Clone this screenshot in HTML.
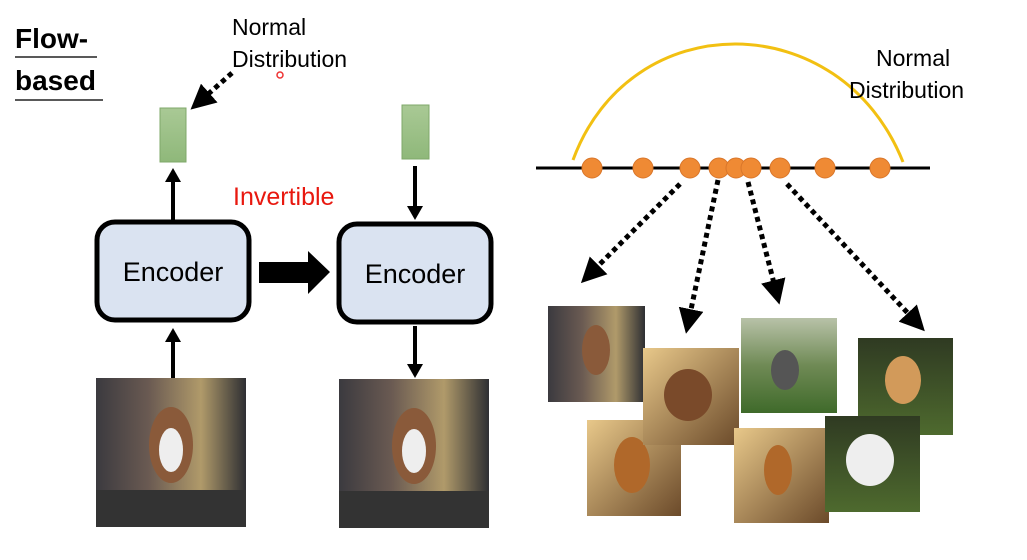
<!DOCTYPE html>
<html><head><meta charset="utf-8"><style>
body{margin:0;background:#fff;}
svg{display:block;font-family:"Liberation Sans",sans-serif;}
</style></head><body>
<svg width="1027" height="560" viewBox="0 0 1027 560" xmlns="http://www.w3.org/2000/svg">
<defs>
<linearGradient id="g1" x1="0" y1="0" x2="0" y2="1"><stop offset="0" stop-color="#a9c995"/><stop offset="1" stop-color="#8fb87a"/></linearGradient>
<linearGradient id="street" x1="0" y1="0" x2="1" y2="0"><stop offset="0" stop-color="#3b3a3f"/><stop offset="0.35" stop-color="#6a5a52"/><stop offset="0.7" stop-color="#b09a6a"/><stop offset="1" stop-color="#2e2f33"/></linearGradient>
<linearGradient id="gold" x1="0" y1="0" x2="1" y2="1"><stop offset="0" stop-color="#e8c88a"/><stop offset="1" stop-color="#6b4a2a"/></linearGradient>
<linearGradient id="green" x1="0" y1="0" x2="0" y2="1"><stop offset="0" stop-color="#b8c2a8"/><stop offset="0.5" stop-color="#6f8a55"/><stop offset="1" stop-color="#3f6a2a"/></linearGradient>
<linearGradient id="dgreen" x1="0" y1="0" x2="0" y2="1"><stop offset="0" stop-color="#2f3a22"/><stop offset="1" stop-color="#4e6a2e"/></linearGradient>
<marker id="ah" markerWidth="5" markerHeight="5" refX="3" refY="2.5" orient="auto" markerUnits="strokeWidth"><path d="M0,0 L5,2.5 L0,5 z" fill="#000"/></marker>
</defs>

<text x="15" y="48" font-size="28" font-weight="bold">Flow-</text>
<line x1="15" y1="57" x2="97" y2="57" stroke="#222" stroke-width="1.5"/>
<text x="15" y="90" font-size="28" font-weight="bold">based</text>
<line x1="15" y1="100" x2="103" y2="100" stroke="#222" stroke-width="1.5"/>

<text x="232" y="35" font-size="23">Normal</text>
<text x="232" y="67" font-size="23">Distribution</text>
<circle cx="280" cy="75" r="3" fill="none" stroke="#e33" stroke-width="1.5"/>
<line x1="232" y1="73" x2="198" y2="103" stroke="#000" stroke-width="5" stroke-dasharray="5,4" marker-end="url(#ah)"/>

<rect x="160" y="108" width="26" height="54" fill="url(#g1)" stroke="#7fa86a"/>
<rect x="402" y="105" width="27" height="54" fill="url(#g1)" stroke="#7fa86a"/>

<line x1="173" y1="220" x2="173" y2="180" stroke="#000" stroke-width="4"/>
<path d="M165,182 L173,168 L181,182 z"/>
<line x1="415" y1="166" x2="415" y2="208" stroke="#000" stroke-width="4"/>
<path d="M407,206 L415,220 L423,206 z"/>

<text x="233" y="205" font-size="25" fill="#e8180f">Invertible</text>

<rect x="97" y="222" width="152" height="98" rx="18" fill="#dae3f1" stroke="#000" stroke-width="5"/>
<text x="173" y="281" font-size="27" text-anchor="middle">Encoder</text>
<rect x="339" y="224" width="152" height="98" rx="18" fill="#dae3f1" stroke="#000" stroke-width="5"/>
<text x="415" y="283" font-size="27" text-anchor="middle">Encoder</text>
<path d="M259,262 L308,262 L308,251 L330,272 L308,294 L308,283 L259,283 z"/>

<line x1="173" y1="378" x2="173" y2="340" stroke="#000" stroke-width="4"/>
<path d="M165,342 L173,328 L181,342 z"/>
<line x1="415" y1="326" x2="415" y2="366" stroke="#000" stroke-width="4"/>
<path d="M407,364 L415,378 L423,364 z"/>

<rect x="96" y="378" width="150" height="149" fill="url(#street)"/>
<ellipse cx="171" cy="445" rx="22" ry="38" fill="#8a5a3a"/><ellipse cx="171" cy="450" rx="12" ry="22" fill="#eee"/>
<rect x="96" y="490" width="150" height="37" fill="#333"/>
<rect x="339" y="379" width="150" height="149" fill="url(#street)"/>
<ellipse cx="414" cy="446" rx="22" ry="38" fill="#8a5a3a"/><ellipse cx="414" cy="451" rx="12" ry="22" fill="#eee"/>
<rect x="339" y="491" width="150" height="37" fill="#333"/>

<path d="M573,160 C630,5 840,5 903,162" fill="none" stroke="#f2c012" stroke-width="3"/>
<text x="876" y="66" font-size="23">Normal</text>
<text x="849" y="98" font-size="23">Distribution</text>
<line x1="536" y1="168" x2="930" y2="168" stroke="#000" stroke-width="3"/>
<g fill="#ef8a34" stroke="#d9762a" stroke-width="1">
<circle cx="592" cy="168" r="10"/><circle cx="643" cy="168" r="10"/><circle cx="690" cy="168" r="10"/><circle cx="719" cy="168" r="10"/><circle cx="736" cy="168" r="10"/><circle cx="751" cy="168" r="10"/><circle cx="780" cy="168" r="10"/><circle cx="825" cy="168" r="10"/><circle cx="880" cy="168" r="10"/></g>
<g stroke="#000" stroke-width="5" stroke-dasharray="5,4" marker-end="url(#ah)">
<line x1="680" y1="184" x2="588" y2="276"/>
<line x1="718" y1="180" x2="688" y2="324"/>
<line x1="748" y1="182" x2="777" y2="295"/>
<line x1="787" y1="184" x2="918" y2="324"/>
</g>

<rect x="548" y="306" width="97" height="96" fill="url(#street)"/>
<ellipse cx="596" cy="350" rx="14" ry="25" fill="#8a5a3a"/>
<rect x="741" y="318" width="96" height="95" fill="url(#green)"/>
<ellipse cx="785" cy="370" rx="14" ry="20" fill="#555"/>
<rect x="858" y="338" width="95" height="97" fill="url(#dgreen)"/>
<ellipse cx="903" cy="380" rx="18" ry="24" fill="#d29a5a"/>
<rect x="587" y="420" width="94" height="96" fill="url(#gold)"/>
<ellipse cx="632" cy="465" rx="18" ry="28" fill="#b0682a"/>
<rect x="643" y="348" width="96" height="97" fill="url(#gold)"/>
<ellipse cx="688" cy="395" rx="24" ry="26" fill="#7a4a2a"/>
<rect x="734" y="428" width="95" height="95" fill="url(#gold)"/>
<ellipse cx="778" cy="470" rx="14" ry="25" fill="#b0682a"/>
<rect x="825" y="416" width="95" height="96" fill="url(#dgreen)"/>
<ellipse cx="870" cy="460" rx="24" ry="26" fill="#eee"/>
</svg>
</body></html>
